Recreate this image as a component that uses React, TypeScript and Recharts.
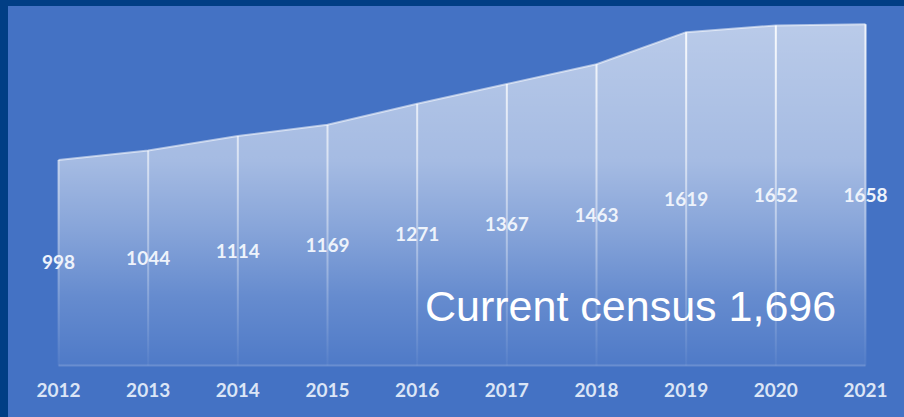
import React from 'react';
import { AreaChart, Area, XAxis, YAxis, ReferenceLine } from 'recharts';

const years: string[] = ['2012', '2013', '2014', '2015', '2016', '2017', '2018', '2019', '2020', '2021'];
const census: number[] = [998, 1044, 1114, 1169, 1271, 1367, 1463, 1619, 1652, 1658];
const yDomain: [number, number] = [0, 1700];
const calloutText = 'Current census 1,696';

const data = years.map((year, i) => ({ year, census: census[i] }));

const labelFont = 'Lato, "Open Sans", "DejaVu Sans", sans-serif';

export default function App() {
  return (
    <div
      style={{
        position: 'absolute',
        left: 0,
        top: 0,
        width: 904,
        height: 417,
        background: '#013e85',
        overflow: 'hidden',
      }}
    >
      <div
        style={{
          position: 'absolute',
          left: 8,
          top: 6,
          right: 0,
          bottom: 0,
          background: '#4472c4',
        }}
      />
      <div style={{ position: 'absolute', left: 0, top: 0 }}>
        <AreaChart
          width={904}
          height={417}
          data={data}
          margin={{ top: 15.5, right: 38.5, bottom: 21.6, left: 58.5 }}
        >
          <defs>
            <linearGradient id="areaFill" x1="0" y1="0" x2="0" y2="1">
              <stop offset="0" stopColor="#ffffff" stopOpacity={0.63} />
              <stop offset="0.4" stopColor="#ffffff" stopOpacity={0.52} />
              <stop offset="0.6" stopColor="#ffffff" stopOpacity={0.36} />
              <stop offset="0.8" stopColor="#ffffff" stopOpacity={0.18} />
              <stop offset="1" stopColor="#ffffff" stopOpacity={0.06} />
            </linearGradient>
            <linearGradient id="dropLine" gradientUnits="userSpaceOnUse" x1="0" y1="20" x2="0" y2="365">
              <stop offset="0" stopColor="#ffffff" stopOpacity={0.9} />
              <stop offset="0.55" stopColor="#ffffff" stopOpacity={0.45} />
              <stop offset="1" stopColor="#ffffff" stopOpacity={0.04} />
            </linearGradient>
          </defs>
          <XAxis
            dataKey="year"
            height={30}
            axisLine={{ stroke: 'rgba(255,255,255,0.18)', strokeWidth: 2 }}
            tickLine={false}
            tickSize={0}
            tickMargin={18}
            interval={0}
            tick={{ fill: '#dbe5f6', fontSize: 19, fontWeight: 700, fontFamily: labelFont }}
          />
          <YAxis hide domain={yDomain} />
          <Area
            type="linear"
            dataKey="census"
            stroke="rgba(255,255,255,0.55)"
            strokeWidth={2}
            fill="url(#areaFill)"
            fillOpacity={1}
            dot={false}
            activeDot={false}
            isAnimationActive={false}
          />
          {data.map((d) => (
            <ReferenceLine
              key={d.year}
              segment={[
                { x: d.year, y: 0 },
                { x: d.year, y: d.census },
              ]}
              stroke="url(#dropLine)"
              strokeWidth={2}
              label={{
                value: String(d.census),
                position: 'center',
                fill: '#eef3fb',
                fontSize: 19,
                fontWeight: 700,
                fontFamily: labelFont,
              }}
            />
          ))}
        </AreaChart>
      </div>
      <div
        style={{
          position: 'absolute',
          left: 425,
          top: 285,
          fontFamily: '"Liberation Sans", Arial, sans-serif',
          fontSize: 43,
          lineHeight: '43px',
          color: '#ffffff',
          whiteSpace: 'nowrap',
        }}
      >
        {calloutText}
      </div>
    </div>
  );
}
